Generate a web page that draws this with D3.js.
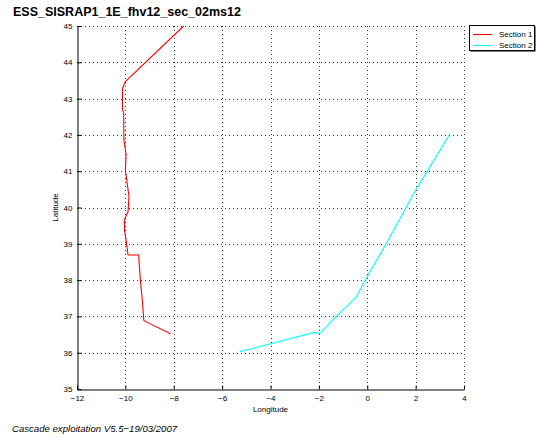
<!DOCTYPE html>
<html>
<head>
<meta charset="utf-8">
<script src="https://cdn.jsdelivr.net/npm/d3@7"></script>
<style>
  html, body { margin: 0; padding: 0; background: #fff; }
  svg { display: block; font-family: "Liberation Sans", Arial, Helvetica, sans-serif; }
</style>
</head>
<body>
<script>
// Section tracks (longitude, latitude)
const section1Lon = [-7.59, -10.0, -10.12, -10.12, -10.07, -10.06, -9.97, -10.0, -9.85, -9.89, -10.04, -10.04, -9.97, -9.89, -9.45, -9.38, -9.30, -9.24, -9.20, -8.13];
const section1Lat = [45.0, 43.47, 43.28, 42.71, 42.6, 41.86, 41.45, 41.03, 40.3, 39.88, 39.66, 39.38, 39.1, 38.69, 38.69, 38.0, 37.45, 36.9, 36.87, 36.52];
const section2Lon = [-5.27, -2.17, -1.98, -1.28, -0.45, -0.04, 0.79, 1.93, 2.51, 3.41];
const section2Lat = [36.03, 36.56, 36.52, 37.0, 37.54, 38.05, 39.01, 40.39, 41.03, 42.02];

const seriesNames = ["Section 1", "Section 2"];
const seriesColors = ["#ff0000", "#00ffff"];

const xTicks = [-12, -10, -8, -6, -4, -2, 0, 2, 4];
const yTicks = [35, 36, 37, 38, 39, 40, 41, 42, 43, 44, 45];

const titleText = "ESS_SISRAP1_1E_fhv12_sec_02ms12";
const xLabel = "Longitude";
const yLabel = "Latitude";
const footerText = "Cascade exploitation V5.5\u221219/03/2007";

(function () {
  const W = 537, H = 438;
  const pL = 77, pR = 464, pT = 26, pB = 389;

  const svg = d3.select("body").append("svg").attr("width", W).attr("height", H);

  const x = d3.scaleLinear().domain([-12, 4]).range([pL, pR]);
  const y = d3.scaleLinear().domain([35, 45]).range([pB, pT]);

  // dotted grid
  const grid = svg.append("g").attr("stroke", "#333").attr("stroke-width", 1)
    .attr("stroke-dasharray", "1,3").attr("shape-rendering", "crispEdges");
  grid.selectAll("line.vx").data(xTicks.filter(d => d !== -12)).join("line")
    .attr("x1", d => Math.round(x(d)) + 0.5).attr("x2", d => Math.round(x(d)) + 0.5)
    .attr("y1", pT).attr("y2", pB);
  grid.selectAll("line.hy").data(yTicks.filter(d => d !== 35)).join("line")
    .attr("y1", d => Math.round(y(d)) + 0.5).attr("y2", d => Math.round(y(d)) + 0.5)
    .attr("x1", pL).attr("x2", pR);

  // axes (left and bottom), ticks pointing inward
  const xAxis = d3.axisBottom(x).tickValues(xTicks).tickSizeInner(-4).tickSizeOuter(0)
    .tickPadding(6).tickFormat(d => d < 0 ? "\u2212" + Math.abs(d) : d);
  const gx = svg.append("g").attr("transform", `translate(0,${pB + 0.5})`).call(xAxis);
  const yAxis = d3.axisLeft(y).tickValues(yTicks).tickSizeInner(-4).tickSizeOuter(0).tickPadding(5);
  const gy = svg.append("g").attr("transform", `translate(${pL + 0.5},0)`).call(yAxis);
  [gx, gy].forEach(g => {
    g.select(".domain").attr("stroke", "#000").attr("stroke-width", 1);
    g.selectAll(".tick line").attr("stroke", "#000");
    g.selectAll("text").attr("font-size", 8).attr("fill", "#000")
      .attr("font-family", "'Liberation Sans', Arial, sans-serif");
  });

  // section tracks
  const line = d3.line().x(d => x(d[0])).y(d => y(d[1]));
  const tracks = [
    d3.zip(section1Lon, section1Lat),
    d3.zip(section2Lon, section2Lat)
  ];
  svg.append("g").selectAll("path").data(tracks).join("path")
    .attr("d", line).attr("fill", "none")
    .attr("stroke", (d, i) => seriesColors[i]).attr("stroke-width", 1.1)
    .attr("stroke-linejoin", "round");

  // title
  svg.append("text").attr("x", 13).attr("y", 16).attr("font-size", 12.5)
    .attr("font-weight", "bold").attr("fill", "#000").text(titleText);

  // axis labels
  svg.append("text").attr("x", (pL + pR) / 2).attr("y", 412)
    .attr("text-anchor", "middle").attr("font-size", 8).text(xLabel);
  svg.append("text").attr("transform", `translate(58,${(pT + pB) / 2}) rotate(-90)`)
    .attr("text-anchor", "middle").attr("font-size", 8).text(yLabel);

  // footer
  svg.append("text").attr("x", 12).attr("y", 432).attr("font-size", 9.6)
    .attr("font-style", "italic").text(footerText);

  // legend
  const lg = svg.append("g");
  lg.append("rect").attr("x", 470.5).attr("y", 26.5).attr("width", 65).attr("height", 25)
    .attr("fill", "#000");
  lg.append("rect").attr("x", 469.5).attr("y", 25.5).attr("width", 65).attr("height", 25)
    .attr("fill", "#fff").attr("stroke", "#000").attr("stroke-width", 1);
  const items = lg.selectAll("g.item").data(seriesNames).join("g")
    .attr("transform", (d, i) => `translate(0,${34 + i * 11})`);
  items.append("line").attr("x1", 473).attr("x2", 492).attr("y1", 0.5).attr("y2", 0.5)
    .attr("stroke", (d, i) => seriesColors[i]).attr("stroke-width", 1.1);
  items.append("text").attr("x", 499).attr("y", 3).attr("font-size", 8).text(d => d);
})();
</script>
</body>
</html>
